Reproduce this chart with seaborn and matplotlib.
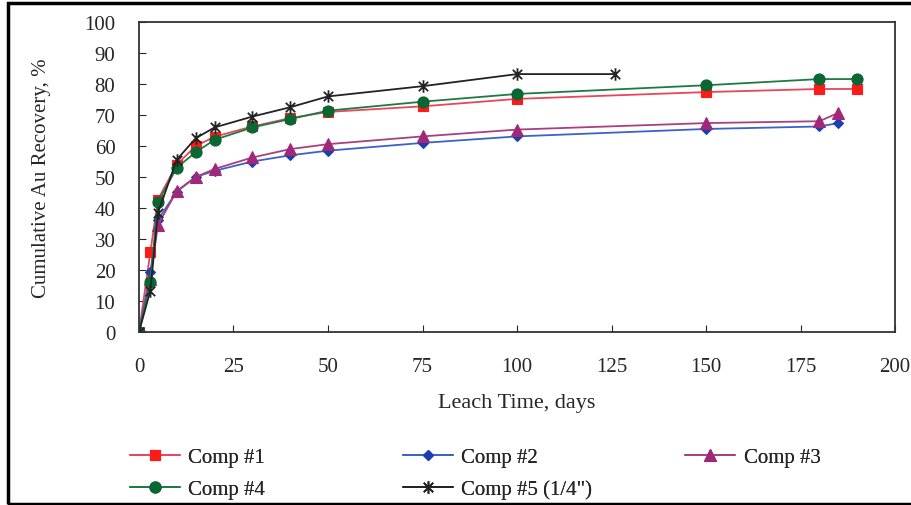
import numpy as np
import pandas as pd
import seaborn as sns
import matplotlib.pyplot as plt
from matplotlib.path import Path
from matplotlib.patches import Rectangle

# data
days_a = [0, 3, 5, 10, 15, 20, 30, 40, 50, 75, 100, 150, 180, 190]
days_b = [0, 3, 5, 10, 15, 20, 30, 40, 50, 75, 100, 150, 180, 185]
days_c = [0, 3, 5, 10, 15, 20, 30, 40, 50, 75, 100, 126]
comp1 = [0, 25.7, 42.7, 54, 60, 63, 66.3, 69, 71, 72.8, 75.2, 77.4, 78.4, 78.4]
comp2 = [0, 19.2, 36.2, 45.3, 50, 52, 55, 57, 58.5, 61, 63.1, 65.5, 66.3, 67.4]
comp3 = [0, 17, 34.5, 45.5, 50, 52.6, 56.3, 59, 60.6, 63.1, 65.3, 67.4, 68, 70.7]
comp4 = [0, 16.2, 42, 53, 58, 62, 66, 68.7, 71.4, 74.3, 76.8, 79.6, 81.6, 81.6]
comp5 = [0, 13.3, 38.4, 55.6, 62.5, 66, 69.5, 72.5, 76, 79.3, 83.2, 83.2]
labels = ['Comp #1', 'Comp #2', 'Comp #3', 'Comp #4', 'Comp #5 (1/4")']

sns.set_style('ticks')
plt.rcParams['font.family'] = ['Liberation Serif', 'DejaVu Serif']

# excel-like star marker: x with a vertical bar
star = Path([(0, -1), (0, 1), (-0.75, -0.75), (0.75, 0.75), (-0.75, 0.75), (0.75, -0.75)],
            [Path.MOVETO, Path.LINETO] * 3)

series = [
    (days_a, comp1, '#e8465c', '#ff1a1a', 's', 7.5),
    (days_b, comp2, '#3a62c8', '#1a3fb0', 'D', 5),
    (days_b, comp3, '#a8407f', '#a02878', '^', 8),
    (days_a, comp4, '#1d7a45', '#0a6632', 'o', 8),
    (days_c, comp5, '#222222', '#222222', star, 9),
]

fig = plt.figure(figsize=(9.12, 5.06), dpi=100)
ax = fig.add_axes([0.1524, 0.3419, 0.8290, 0.6126])

handles = []
for (x, y, lc, mc, mk, ms), lab in zip(series, labels):
    df = pd.DataFrame({'t': x, 'r': y})
    sns.lineplot(data=df, x='t', y='r', ax=ax, color=lc, lw=1.3, marker=mk, ms=ms,
                 markerfacecolor=mc, markeredgecolor=mc, mew=1.3 if mk is star else 0.8,
                 label=lab, legend=False)
    handles.append(ax.lines[-1])

ax.set_xlim(0, 200)
ax.set_ylim(0, 100)
ax.set_xticks(range(0, 201, 25))
ax.set_yticks(range(0, 101, 10))
ax.tick_params(direction='in', labelsize=15, length=5)
ax.tick_params(axis='x', pad=18)
ax.tick_params(axis='y', pad=17)
for s in ax.spines.values():
    s.set_visible(True)
    s.set_color('#333333')
    s.set_linewidth(1.3)
ax.set_xlabel('Leach Time, days', fontsize=16, labelpad=12)
ax.set_ylabel('Cumulative Au Recovery, %', fontsize=15, labelpad=24)

# one legend per column so the columns sit where the reference has them
cols = [([0, 3], 0.138), ([1, 4], 0.437), ([2], 0.747)]
for idx, xpos in cols:
    leg = fig.legend([handles[i] for i in idx], [labels[i] for i in idx], ncol=1,
                     loc='upper left', bbox_to_anchor=(xpos, 0.122), frameon=False,
                     fontsize=15, handlelength=2.4, labelspacing=0.6,
                     handletextpad=0.4, borderaxespad=0, borderpad=0.2)
    fig.add_artist(leg)

fig.patches.append(Rectangle((0.0088, 0.002), 1.1, 0.990, transform=fig.transFigure,
                             fill=False, lw=2.5, ec='black'))

fig.savefig('out.png', dpi=100)
